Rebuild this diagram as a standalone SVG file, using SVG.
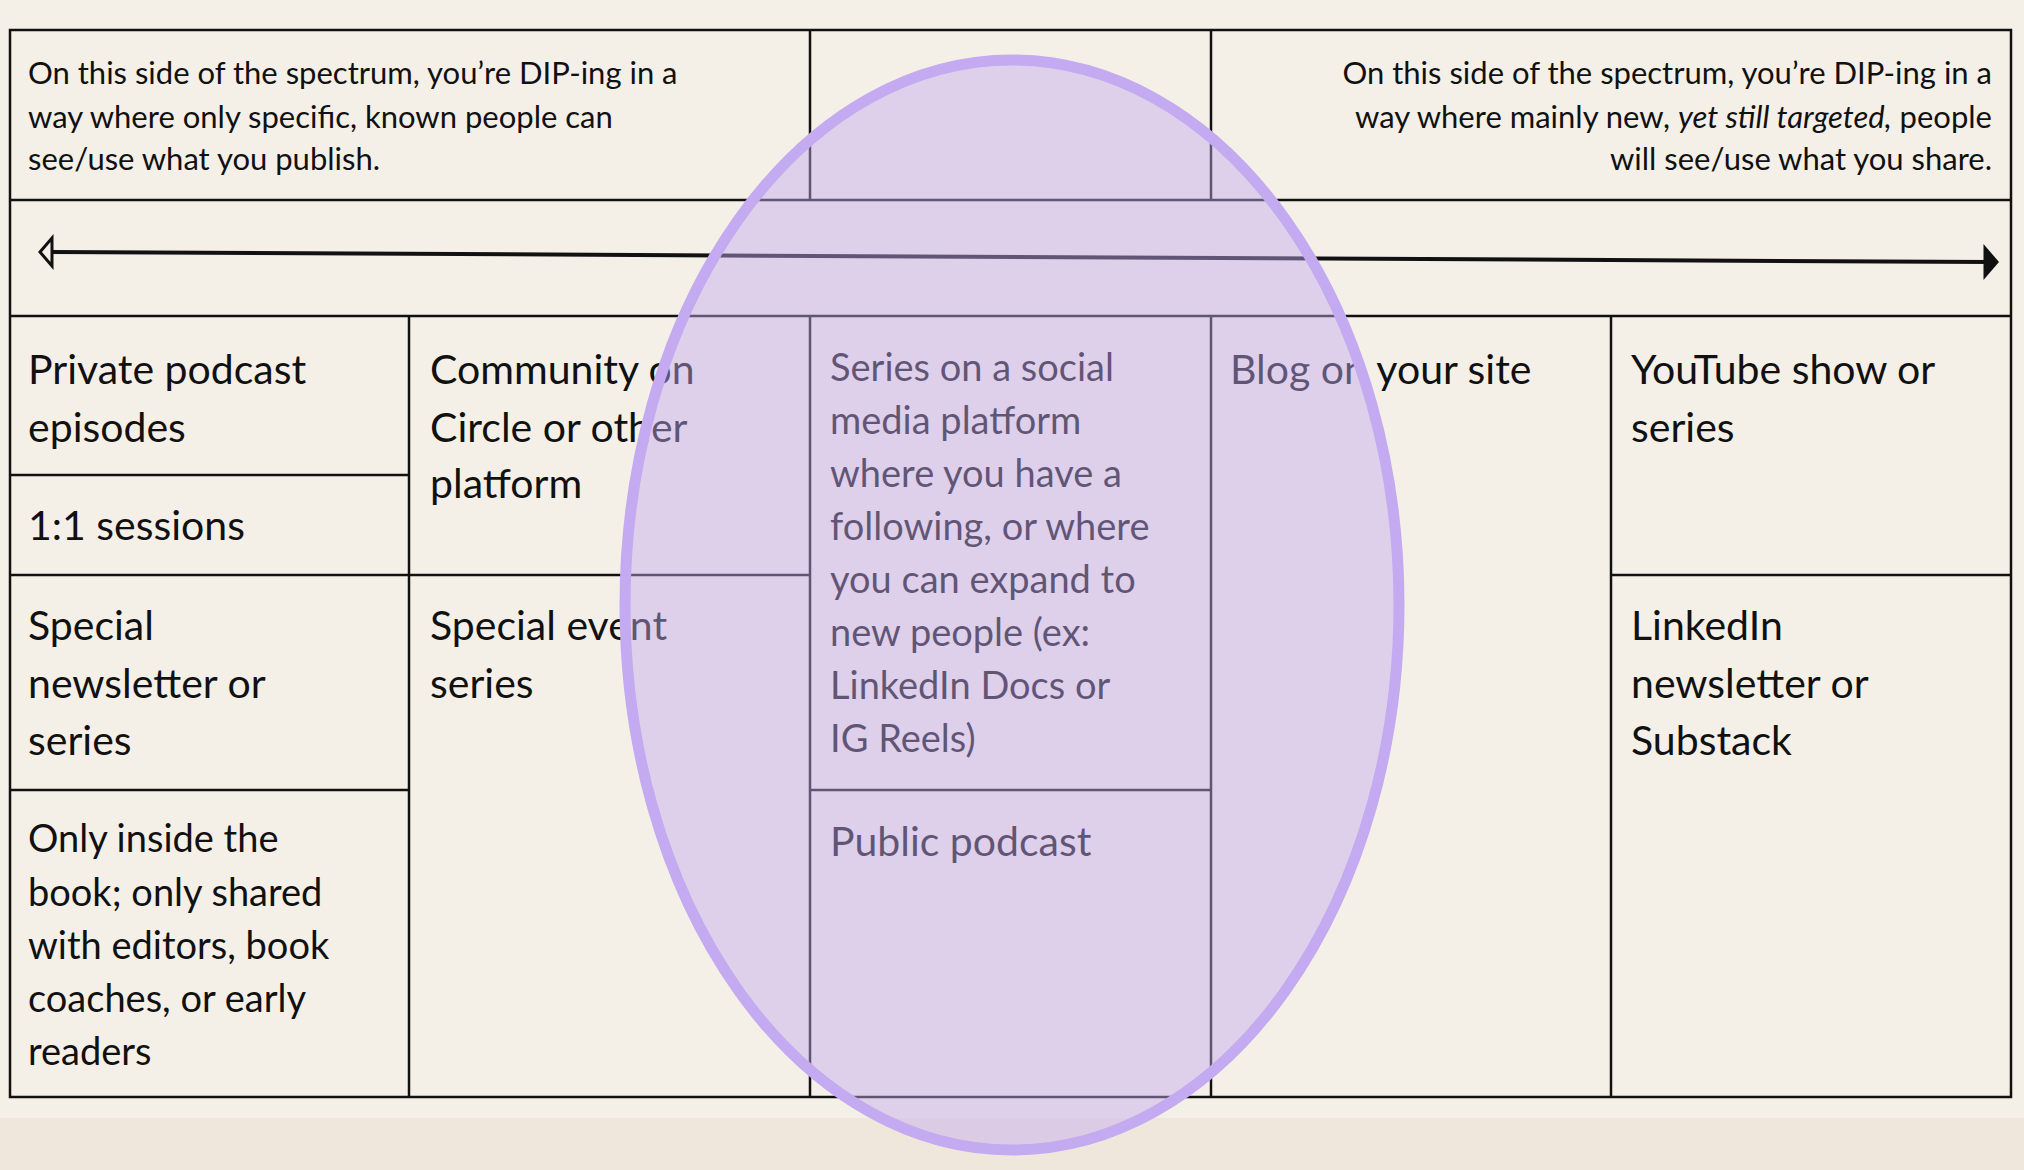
<svg xmlns="http://www.w3.org/2000/svg" width="2024" height="1170" viewBox="0 0 2024 1170">
<style>
.ln{stroke:#111;stroke-width:2.5;fill:none}
.t{font-family:Lato,"Liberation Sans",sans-serif;fill:#111}
.s{font-size:31px}
.b{font-size:41px}
.m{font-size:38px}
</style>
<rect width="2024" height="1170" fill="#f4f0e8"/>
<rect y="1118" width="2024" height="52" fill="#efe7dc"/>
<g id="grid">
<rect class="ln" x="10" y="30" width="2001" height="1067"/>
<path class="ln" d="M10 200H2011M10 316H2011M810 30V200M1211 30V200M409 316V1097M810 316V1097M1211 316V1097M1611 316V1097M10 475H409M10 575H810M10 790H409M810 790H1211M1611 575H2011"/>
</g>
<g id="connectors">
<path d="M52 252L1990 262" stroke="#111" stroke-width="4"/>
<path d="M40 252L52 238V266Z" fill="none" stroke="#111" stroke-width="3"/>
<path d="M1997 262L1985 248V276Z" fill="#111" stroke="#111" stroke-width="3"/>
</g>
<g id="n-left" class="t s"><text x="28" y="84">On this side of the spectrum, you’re DIP-ing in a</text><text x="28" y="128">way where only specific, known people can</text><text x="28" y="170">see/use what you publish.</text></g>
<g id="n-right" class="t s" text-anchor="end"><text x="1992" y="84">On this side of the spectrum, you’re DIP-ing in a</text><text x="1992" y="128">way where mainly new, <tspan font-style="italic">yet still targeted,</tspan> people</text><text x="1992" y="170">will see/use what you share.</text></g>
<g id="n1" class="t b"><text x="28" y="384">Private podcast</text><text x="28" y="442">episodes</text></g>
<g id="n2" class="t b"><text x="28" y="540">1:1 sessions</text></g>
<g id="n3" class="t b"><text x="28" y="640">Special</text><text x="28" y="698">newsletter or</text><text x="28" y="755">series</text></g>
<g id="n4" class="t m"><text x="28" y="852">Only inside the</text><text x="28" y="906">book; only shared</text><text x="28" y="959">with editors, book</text><text x="28" y="1012">coaches, or early</text><text x="28" y="1065">readers</text></g>
<g id="n5" class="t b"><text x="430" y="384">Community on</text><text x="430" y="442">Circle or other</text><text x="430" y="498">platform</text></g>
<g id="n6" class="t b"><text x="430" y="640">Special event</text><text x="430" y="698">series</text></g>
<g id="n7" class="t m"><text x="830" y="381">Series on a social</text><text x="830" y="434">media platform</text><text x="830" y="487">where you have a</text><text x="830" y="540">following, or where</text><text x="830" y="593">you can expand to</text><text x="830" y="646">new people (ex:</text><text x="830" y="699">LinkedIn Docs or</text><text x="830" y="752">IG Reels)</text></g>
<g id="n8" class="t b"><text x="830" y="856">Public podcast</text></g>
<g id="n9" class="t b"><text x="1230" y="384">Blog on your site</text></g>
<g id="n10" class="t b"><text x="1631" y="384">YouTube show or</text><text x="1631" y="442">series</text></g>
<g id="n11" class="t b"><text x="1631" y="640">LinkedIn</text><text x="1631" y="698">newsletter or</text><text x="1631" y="755">Substack</text></g>
<g id="highlight"><ellipse cx="1012" cy="605" rx="387" ry="545" fill="#c4a8f0" fill-opacity="0.45" stroke="#c4aaf0" stroke-width="11"/></g>
</svg>
